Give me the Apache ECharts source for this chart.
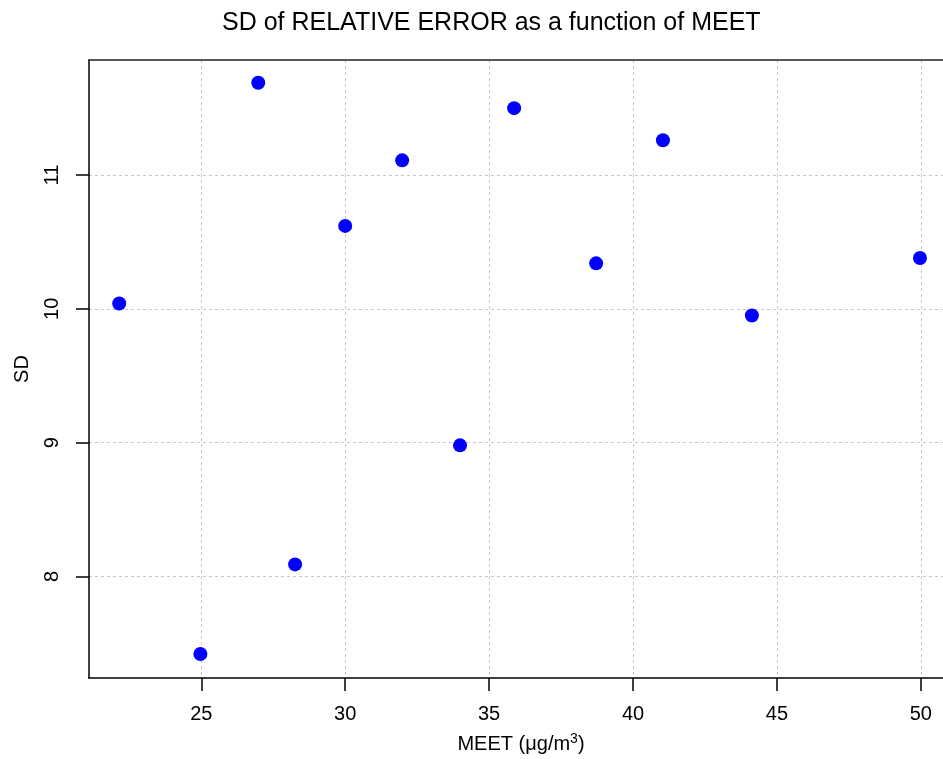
<!DOCTYPE html>
<html>
<head>
<meta charset="utf-8">
<script src="https://cdn.jsdelivr.net/npm/echarts@6/dist/echarts.min.js"></script>
<style>
  html, body { margin: 0; padding: 0; background: #fff; }
  #chart { width: 943px; height: 759px; }
</style>
</head>
<body>
<div id="chart"></div>
<script>
// MEET concentration (µg/m³) and the SD of the relative error
const meet = [22.15, 24.97, 26.98, 28.26, 30.0, 31.98, 33.99, 35.87, 38.72, 41.04, 44.13, 49.97];
const sd   = [10.04, 7.42, 11.69, 8.09, 10.62, 11.11, 8.98, 11.50, 10.34, 11.26, 9.95, 10.38];
const xTicks = [25, 30, 35, 40, 45, 50];
const yTicks = [8, 9, 10, 11];

const font = '"Liberation Sans", Arial, sans-serif';
const xMin = 21.1, xMax = 50.77;
const chart = echarts.init(document.getElementById('chart'), null, { renderer: 'canvas' });

chart.setOption({
  animation: false,
  backgroundColor: '#ffffff',
  title: {
    text: 'SD of RELATIVE ERROR as a function of MEET',
    left: 217,
    top: 6,
    textStyle: { fontFamily: font, fontSize: 25, fontWeight: 'normal', color: '#000' }
  },
  grid: { left: 89, right: 0, top: 60, bottom: 80, show: false },
  xAxis: [{
    type: 'value',
    min: xMin, max: xMax,
    name: 'MEET (μg/m{sup|3})',
    nameLocation: 'middle',
    nameGap: 54,
    nameTextStyle: {
      fontFamily: font, fontSize: 20, color: '#000', padding: [0, 0, 0, 10],
      rich: {
        sup: { fontFamily: font, fontSize: 14, color: '#000', verticalAlign: 'top', lineHeight: 24 }
      }
    },
    axisLine: { show: true, onZero: false, lineStyle: { color: '#000', width: 1.5 } },
    axisTick: { show: true, length: 13, lineStyle: { color: '#000', width: 1.5 },
      customValues: xTicks },
    axisLabel: { fontFamily: font, fontSize: 20, color: '#000', margin: 26,
      customValues: xTicks },
    splitLine: { show: true, lineStyle: { color: '#c8c8c8', type: [3, 3], width: 1 } },
    interval: 5
  }, {
    // top edge of the plot box
    type: 'value', position: 'top',
    min: xMin, max: xMax,
    axisLine: { show: true, onZero: false, lineStyle: { color: '#222', width: 1.5 } },
    axisTick: { show: false }, axisLabel: { show: false }, splitLine: { show: false }
  }],
  yAxis: {
    type: 'value',
    min: 7.241, max: 11.86,
    name: 'SD',
    nameLocation: 'middle',
    nameGap: 57,
    nameRotate: 90,
    nameTextStyle: { fontFamily: font, fontSize: 20, color: '#000' },
    axisLine: { show: true, onZero: false, lineStyle: { color: '#000', width: 1.5 } },
    axisTick: { show: true, length: 13, lineStyle: { color: '#000', width: 1.5 },
      customValues: yTicks },
    axisLabel: { fontFamily: font, fontSize: 20, color: '#000', rotate: 90, margin: 27,
      customValues: yTicks },
    splitLine: { show: true, lineStyle: { color: '#c8c8c8', type: [3, 3], width: 1 } },
    interval: 1
  },
  series: [{
    type: 'scatter',
    xAxisIndex: 0,
    data: meet.map((x, i) => [x, sd[i]]),
    symbol: 'circle',
    symbolSize: 14,
    itemStyle: { color: '#0000ff', opacity: 1 }
  }]
});
</script>
</body>
</html>
